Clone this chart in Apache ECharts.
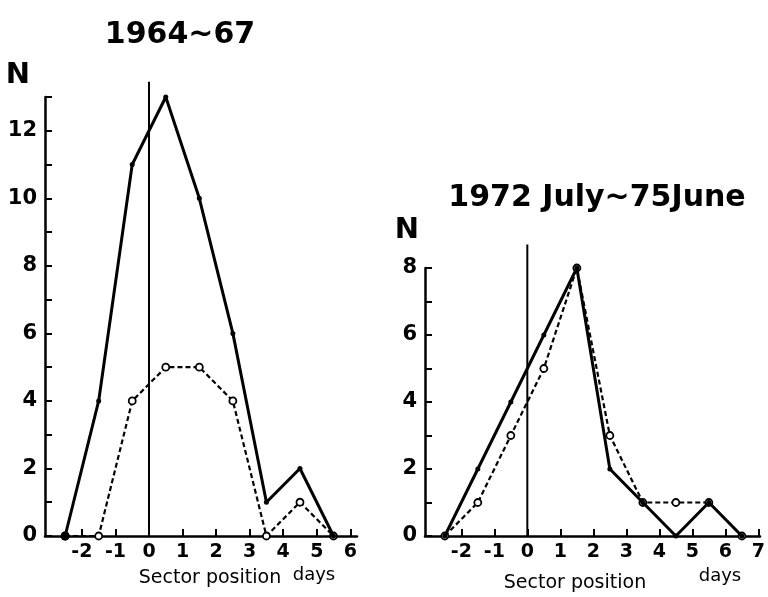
<!DOCTYPE html>
<html>
<head>
<meta charset="utf-8">
<script src="https://cdn.jsdelivr.net/npm/echarts@6/dist/echarts.min.js"></script>
<style>
  html, body { margin: 0; padding: 0; background: #fff; }
  #chart { width: 768px; height: 597px; }
</style>
</head>
<body>
<div id="chart"></div>
<script>
// sector position (days), bins centred on half days
const xLeft = [-2.5, -1.5, -0.5, 0.5, 1.5, 2.5, 3.5, 4.5, 5.5]
const solidLeft = [0, 4, 11, 13, 10, 6, 1, 2, 0]
const dashedLeft = [0, 0, 4, 5, 5, 4, 0, 1, 0]

const xRight = [-2.5, -1.5, -0.5, 0.5, 1.5, 2.5, 3.5, 4.5, 5.5, 6.5]
const solidRight = [0, 2, 4, 6, 8, 2, 1, 0, 1, 0]
const dashedRight = [0, 1, 3, 5, 8, 3, 1, 1, 1, 0]

const xTicksLeft = [-2, -1, 0, 1, 2, 3, 4, 5, 6]
const xTicksRight = [-2, -1, 0, 1, 2, 3, 4, 5, 6, 7]
const yTicksLeft = [0, 1, 2, 3, 4, 5, 6, 7, 8, 9, 10, 11, 12, 13]
const yLabelsLeft = [0, 2, 4, 6, 8, 10, 12]
const yTicksRight = [0, 1, 2, 3, 4, 5, 6, 7, 8]
const yLabelsRight = [0, 2, 4, 6, 8]

// day-zero reference lines
const zeroLeft = [[0, 0], [0, 13.45]]
const zeroRight = [[0, 0], [0, 8.7]]

const FONT = 'DejaVu Sans'
const pair = (xs, ys) => xs.map((x, i) => [x, ys[i]])

function xAxisOf(gridIndex, min, max, ticks) {
  return {
    type: 'value', gridIndex, min, max,
    splitLine: { show: false },
    axisLine: { onZero: false, lineStyle: { color: '#000', width: 2.5 } },
    axisTick: { inside: true, length: 7, customValues: ticks, lineStyle: { color: '#000', width: 2 } },
    axisLabel: { customValues: ticks, color: '#000', fontFamily: FONT, fontWeight: 'bold', fontSize: 19, margin: 7 },
  }
}

function yAxisOf(gridIndex, max, ticks, labels) {
  return {
    type: 'value', gridIndex, min: 0, max,
    splitLine: { show: false },
    axisLine: { show: true, onZero: false, lineStyle: { color: '#000', width: 2.5 } },
    axisTick: { show: true, inside: true, length: 7, customValues: ticks, lineStyle: { color: '#000', width: 2 } },
    axisLabel: { customValues: labels, color: '#000', fontFamily: FONT, fontWeight: 'bold', fontSize: 21, margin: 8 },
  }
}

function solid(idx, data) {
  return {
    type: 'line', xAxisIndex: idx, yAxisIndex: idx, data, z: 4,
    symbol: 'circle', symbolSize: (v, p) => (p.dataIndex === 0 && idx === 0 ? 9 : 5),
    itemStyle: { color: '#000' },
    lineStyle: { color: '#000', width: 3 },
  }
}

function dashed(idx, data) {
  return {
    type: 'line', xAxisIndex: idx, yAxisIndex: idx, data, z: 3,
    symbol: 'circle', symbolSize: 7,
    itemStyle: { color: '#fff', borderColor: '#000', borderWidth: 1.8 },
    lineStyle: { color: '#000', width: 2.2, type: [5, 3] },
  }
}

function zeroLine(idx, data) {
  return {
    type: 'line', xAxisIndex: idx, yAxisIndex: idx, data, clip: false, z: 2,
    symbol: 'none', lineStyle: { color: '#000', width: 2 },
  }
}

function text(x, y, str, size, extra) {
  return {
    type: 'text', x, y,
    style: Object.assign({ text: str, fill: '#000', font: 'bold ' + size + 'px ' + FONT, textAlign: 'center', textVerticalAlign: 'middle' }, extra || {}),
  }
}

const chart = echarts.init(document.getElementById('chart'))
chart.setOption({
  animation: false,
  grid: [
    { left: 45, top: 97, width: 312, height: 439 },
    { left: 425, top: 268, width: 338, height: 268 },
  ],
  xAxis: [
    xAxisOf(0, -3.1, 6.2, xTicksLeft),
    xAxisOf(1, -3.1, 7.05, xTicksRight),
  ],
  yAxis: [
    yAxisOf(0, 13, yTicksLeft, yLabelsLeft),
    yAxisOf(1, 8, yTicksRight, yLabelsRight),
  ],
  graphic: [
    text(180, 35, '1964~67', 30),
    text(18, 75, 'N', 29),
    text(210, 578, 'Sector position', 18, { font: '19px ' + FONT }),
    text(314, 575, 'days', 17, { font: '18px ' + FONT }),
    text(597, 198, '1972 July~75June', 30),
    text(407, 230, 'N', 29),
    text(575, 583, 'Sector position', 18, { font: '19px ' + FONT }),
    text(720, 576, 'days', 17, { font: '18px ' + FONT }),
  ],
  series: [
    zeroLine(0, zeroLeft),
    dashed(0, pair(xLeft, dashedLeft)),
    solid(0, pair(xLeft, solidLeft)),
    zeroLine(1, zeroRight),
    dashed(1, pair(xRight, dashedRight)),
    solid(1, pair(xRight, solidRight)),
  ],
})
</script>
</body>
</html>
